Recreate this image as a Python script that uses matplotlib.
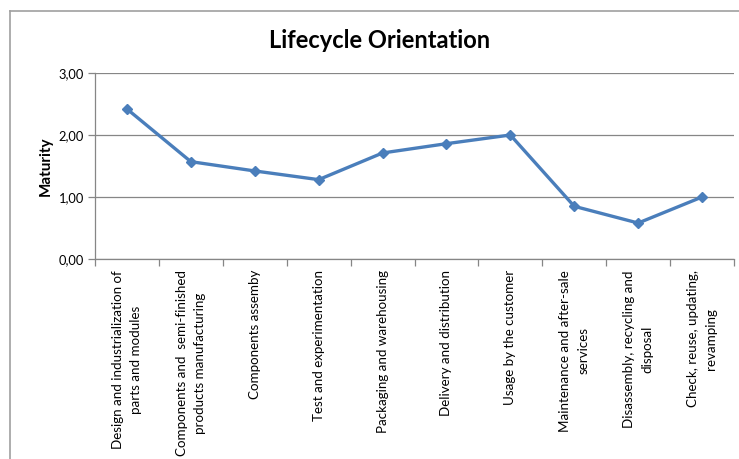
import matplotlib
matplotlib.use("Agg")
import matplotlib.pyplot as plt
from matplotlib.lines import Line2D
from matplotlib.ticker import FixedLocator, FuncFormatter

plt.rcParams["font.family"] = ["Lato", "DejaVu Sans"]

CATEGORIES = [
    "Design and industrialization of\nparts and modules",
    "Components and  semi-finished\nproducts manufacturing",
    "Components assemby",
    "Test and experimentation",
    "Packaging and warehousing",
    "Delivery and distribution",
    "Usage by the customer",
    "Maintenance and after-sale\nservices",
    "Disassembly, recycling and\ndisposal",
    "Check, reuse, updating,\nrevamping",
]
MATURITY = [2.42, 1.57, 1.42, 1.28, 1.71, 1.86, 2.00, 0.85, 0.58, 1.00]
Y_TICKS = [0.0, 1.0, 2.0, 3.0]

LINE_COLOR = "#4a7ebb"
GRID_COLOR = "#868686"

fig = plt.figure(figsize=(7.39, 4.59), dpi=100)
ax = fig.add_axes([95 / 739, 1 - 259 / 459, 639 / 739, 186 / 459])

x = list(range(len(CATEGORIES)))
ax.plot(x, MATURITY, color=LINE_COLOR, lw=2.4, marker="D", ms=5.5,
        markerfacecolor=LINE_COLOR, markeredgecolor=LINE_COLOR, zorder=3)

ax.set_xlim(-0.5, len(CATEGORIES) - 0.5)
ax.set_ylim(0, 3)
ax.set_yticks(Y_TICKS)
ax.yaxis.set_major_formatter(FuncFormatter(lambda v, _: f"{v:.2f}".replace(".", ",")))
ax.grid(axis="y", color=GRID_COLOR, lw=0.9)
ax.set_axisbelow(True)

ax.set_xticks(x)
ax.set_xticklabels(CATEGORIES, rotation=90, ha="center", va="top",
                   multialignment="center", fontsize=9.6, linespacing=1.6)
ax.xaxis.set_minor_locator(FixedLocator([i - 0.5 for i in range(len(CATEGORIES) + 1)]))
ax.tick_params(axis="x", which="major", length=0, pad=8)
ax.tick_params(axis="x", which="minor", length=5, color=GRID_COLOR, width=0.9)
ax.tick_params(axis="y", length=5, color=GRID_COLOR, width=0.9, labelsize=9.3, pad=3)

for side in ["top", "right"]:
    ax.spines[side].set_visible(False)
for side in ["left", "bottom"]:
    ax.spines[side].set_color(GRID_COLOR)
    ax.spines[side].set_linewidth(0.9)

ax.set_ylabel("Maturity", fontsize=11, fontweight="bold", labelpad=4)
fig.text(380 / 739, 1 - 40 / 459, "Lifecycle Orientation", ha="center", va="center",
         fontsize=17, fontweight="bold")

# chart border (left and top edges visible)
fig.add_artist(Line2D([10 / 739, 10 / 739], [0, 1 - 11 / 459], color="#a0a0a0", lw=1.2,
                      transform=fig.transFigure))
fig.add_artist(Line2D([10 / 739, 1], [1 - 11 / 459, 1 - 11 / 459], color="#a0a0a0", lw=1.2,
                      transform=fig.transFigure))

fig.savefig("out.png", dpi=100, facecolor="white")
